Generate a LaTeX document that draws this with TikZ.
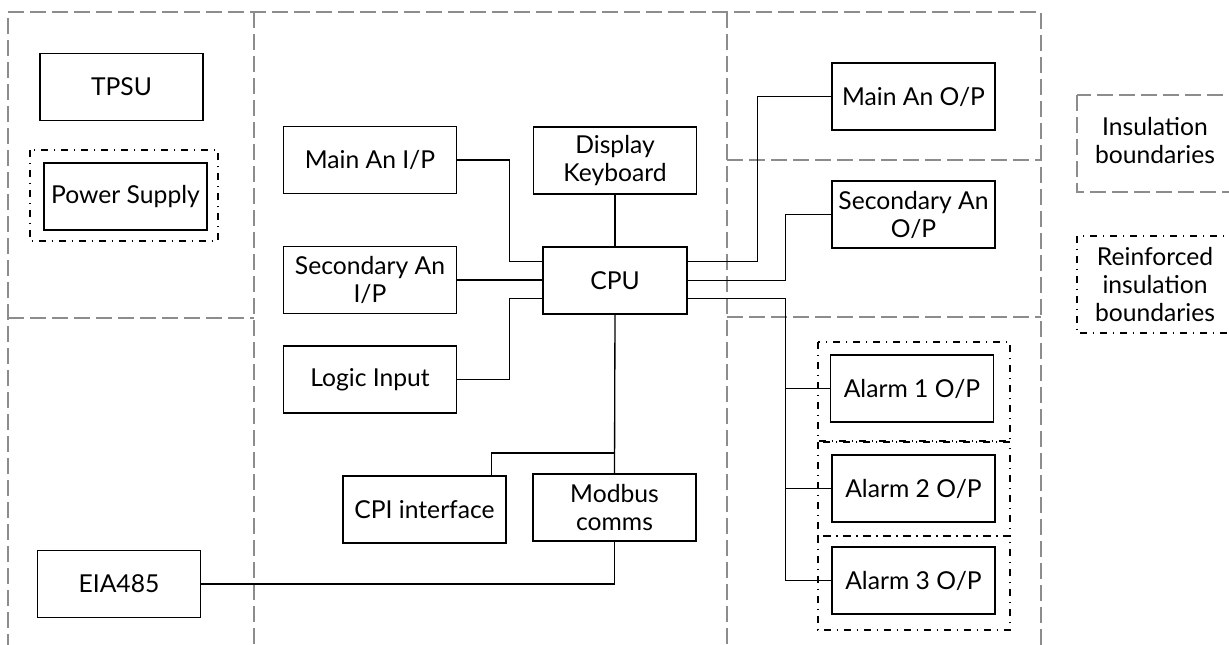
\documentclass[tikz,border=0pt]{standalone}
\usepackage{fontspec}
\setmainfont{Lato}
\usetikzlibrary{calc}

\begin{document}
\begin{tikzpicture}[x=0.75pt, y=-0.75pt]
        \tikzstyle{every node}=[font=\fontsize{18.5}{21}\selectfont, align=center]
        \tikzstyle{block}=[draw, line width=1.1pt, minimum width=122pt, minimum height=50pt, inner sep=1pt]
        \tikzstyle{wire}=[line width=1pt]
        \tikzstyle{insul}=[draw=black!45, line width=1pt, dash pattern=on 12pt off 4.5pt]
        \tikzstyle{reinf}=[draw, line width=1pt, dash pattern=on 5pt off 4.5pt on 1pt off 4.5pt]

% Page frame
        \useasboundingbox (0,0) rectangle (1229,644);

% Insulation boundaries
        \draw[insul] (8,650) -- (8,12) -- (1041,12) -- (1041,650);
        \draw[insul] (254,12) -- (254,650);
        \draw[insul] (727,12) -- (727,650);
        \draw[insul] (8,318) -- (254,318);
        \draw[insul] (727,160) -- (1041,160);
        \draw[insul] (727,317) -- (1041,317);

% Blocks
        \node[block] (tpsu) at (121.5,87) {TPSU};
        \node[block] (psu) at (125.5,196.5) {Power Supply};
        \node[block] (eia) at (119,584) {EIA485};
        \node[block, minimum width=130pt] (mainin) at (370,160) {Main An I/P};
        \node[block, minimum width=130pt] (secin) at (370,280) {Secondary An\\I/P};
        \node[block, minimum width=130pt] (logic) at (370,379.5) {Logic Input};
        \node[block] (disp) at (615,160.5) {Display\\Keyboard};
        \node[block, minimum width=108pt] (cpu) at (615,280.5) {CPU};
        \node[block] (cpi) at (424.5,509.5) {CPI interface};
        \node[block] (modbus) at (614.5,507.5) {Modbus\\comms};
        \node[block] (mainout) at (913.5,96.5) {Main An O/P};
        \node[block] (secout) at (913.5,214.5) {Secondary An\\O/P};
        \node[block] (alarmA) at (912,388.5) {Alarm 1 O/P};
        \node[block] (alarmB) at (913.5,488.5) {Alarm 2 O/P};
        \node[block] (alarmC) at (913.5,580.5) {Alarm 3 O/P};

% Reinforced insulation boundaries
        \draw[reinf] (30,150) rectangle (218,241);
        \draw[reinf] (818,342) rectangle (1010,441);
        \draw[reinf] (818,442) rectangle (1010,536);
        \draw[reinf] (818,536) rectangle (1010,630);

% Connections to the CPU
        \draw[wire] (mainin.east) -- ++(52,0) |- ($(cpu.west)+(0,-19)$);
        \draw[wire] (secin.east) -- (secin.east -| cpu.west);
        \draw[wire] (logic.east) -- ++(52,0) |- ($(cpu.west)+(0,18)$);
        \draw[wire] (disp.south) -- (cpu.north);
        \draw[wire] ($(cpu.east)+(0,-19)$) -- ++(70,0) |- (mainout.west);
        \draw[wire] (cpu.east) -- ++(98,0) |- (secout.west);
        \draw[wire] ($(cpu.east)+(0,18)$) -- ++(98,0) coordinate (abus) |- (alarmC.west);
        \draw[wire] (alarmA.west) -- (alarmA.west -| abus);
        \draw[wire] (alarmB.west) -- (alarmB.west -| abus);
        \draw[wire] (cpu.south) -- (modbus.north);
        \draw[wire] (cpu.south |- 0,453) -| ($(cpi.north)+(67,0)$);
        \draw[wire] (modbus.south) |- (eia.east);

% Legend
        \draw[insul] (1077,95) rectangle (1240,192);
        \node (leginsul) at (1155,141) {Insulation\\boundaries};
        \draw[reinf] (1077,236) rectangle (1240,333);
        \node (legreinf) at (1155,285) {Reinforced\\insulation\\boundaries};

    \end{tikzpicture}
\end{document}
